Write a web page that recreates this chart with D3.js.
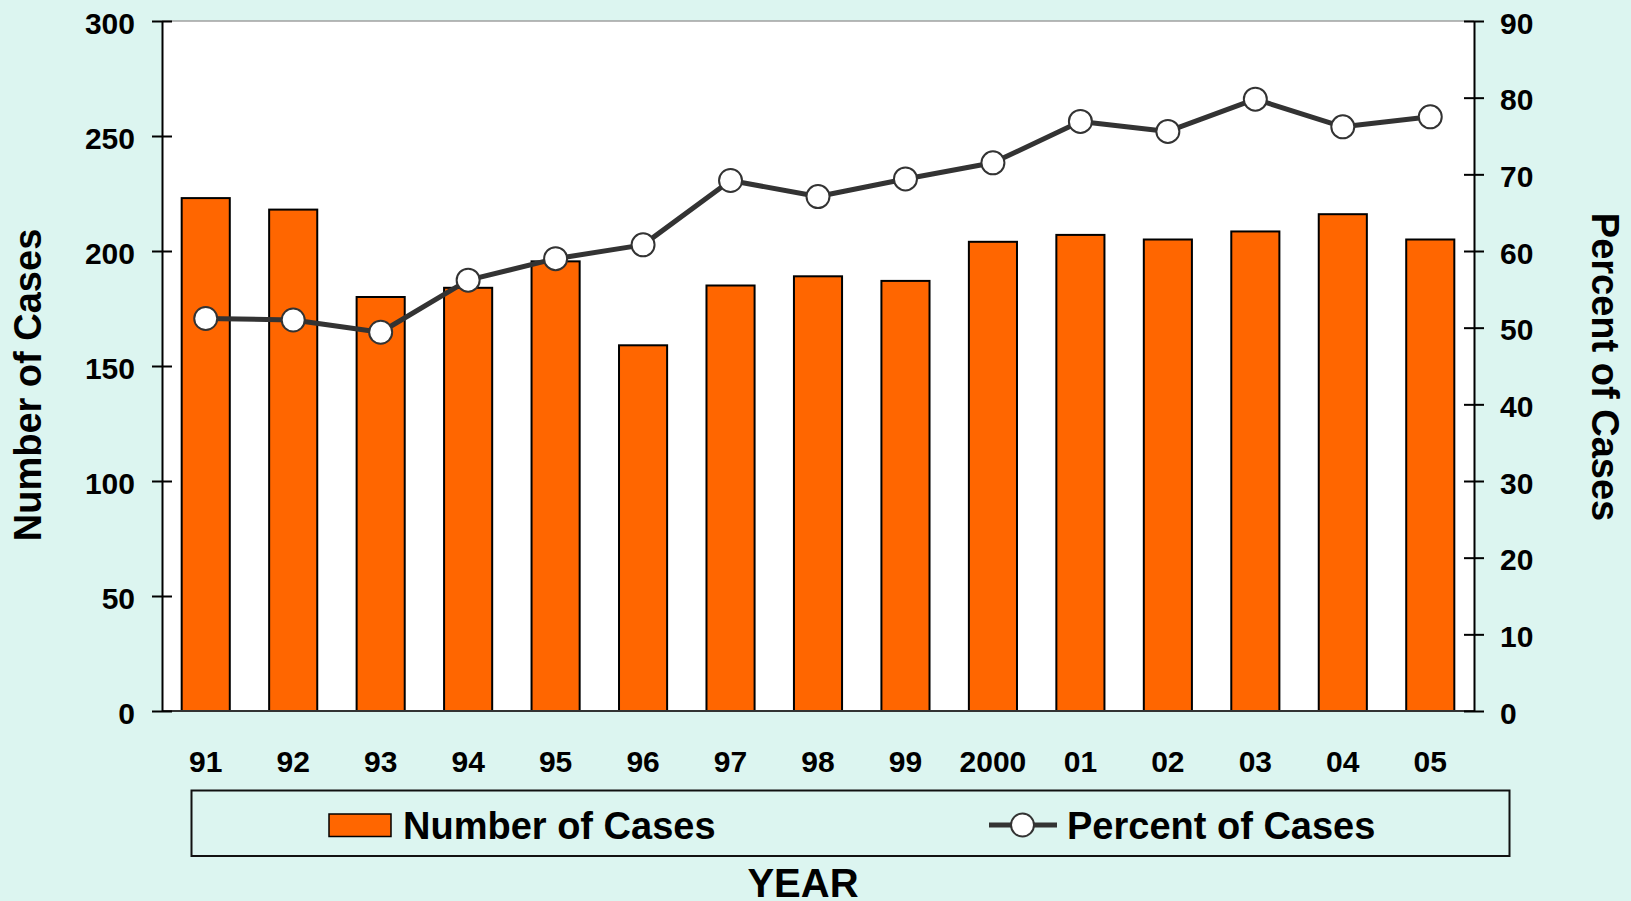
<!DOCTYPE html>
<html>
<head>
<meta charset="utf-8">
<script src="https://cdn.jsdelivr.net/npm/d3@7"></script>
<style>
  html, body { margin: 0; padding: 0; background: #dcf5f0; }
  svg { display: block; font-family: "Liberation Sans", Arial, sans-serif; font-weight: bold; }
</style>
</head>
<body>
<script>
// values
var years = ['91', '92', '93', '94', '95', '96', '97', '98', '99', '2000', '01', '02', '03', '04', '05'];
var cases = [223, 218, 180, 184, 195.5, 159, 185, 189, 187, 204, 207, 205, 208.5, 216, 205];
var percent = [51.2, 51.0, 49.4, 56.2, 59.0, 60.8, 69.2, 67.1, 69.4, 71.5, 76.9, 75.6, 79.8, 76.2, 77.5];
var casesTicks = [0, 50, 100, 150, 200, 250, 300];
var percentTicks = [0, 10, 20, 30, 40, 50, 60, 70, 80, 90];

var W = 1631, H = 901;
var plot = {left: 162, right: 1474, top: 21, bottom: 711};

var svg = d3.select('body').append('svg')
    .attr('width', W)
    .attr('height', H);

svg.append('rect')
    .attr('width', W).attr('height', H)
    .attr('fill', '#dcf5f0');

svg.append('rect')
    .attr('x', plot.left).attr('y', plot.top)
    .attr('width', plot.right - plot.left)
    .attr('height', plot.bottom - plot.top)
    .attr('fill', '#fff');

svg.append('line')
    .attr('x1', plot.left).attr('x2', plot.right)
    .attr('y1', plot.top).attr('y2', plot.top)
    .attr('stroke', '#a0a0a0').attr('stroke-width', 1.5);

var x = d3.scaleBand().domain(years)
    .range([plot.left, plot.right])
    .paddingInner(0.45).paddingOuter(0.225);
var yL = d3.scaleLinear().domain([0, 300]).range([plot.bottom, plot.top]);
var yR = d3.scaleLinear().domain([0, 90]).range([plot.bottom, plot.top]);

// bars
svg.append('g').selectAll('rect')
    .data(cases)
    .join('rect')
        .attr('x', function(d, i) { return x(years[i]); })
        .attr('y', function(d) { return yL(d); })
        .attr('width', x.bandwidth())
        .attr('height', function(d) { return yL(0) - yL(d); })
        .attr('fill', '#ff6600')
        .attr('stroke', '#000')
        .attr('stroke-width', 2);

// bottom axis line
svg.append('line')
    .attr('x1', plot.left).attr('x2', plot.right)
    .attr('y1', plot.bottom).attr('y2', plot.bottom)
    .attr('stroke', '#333').attr('stroke-width', 2);

// left axis
var axisL = d3.axisLeft(yL).tickValues(casesTicks).tickSizeInner(10).tickSizeOuter(0).tickPadding(17);
var $l = svg.append('g')
    .attr('transform', 'translate(' + plot.left + ',0)')
    .call(axisL);

// right axis
var axisR = d3.axisRight(yR).tickValues(percentTicks).tickSizeInner(10).tickSizeOuter(0).tickPadding(16);
var $r = svg.append('g')
    .attr('transform', 'translate(' + plot.right + ',0)')
    .call(axisR);

[$l, $r].forEach(function($a) {
    $a.select('.domain').attr('stroke', '#000').attr('stroke-width', 2);
    $a.selectAll('.tick line').attr('x1', -10).attr('x2', 10)
        .attr('stroke', '#000').attr('stroke-width', 2);
    $a.selectAll('.tick text')
        .attr('font-size', 30)
        .attr('font-family', '"Liberation Sans", Arial, sans-serif')
        .attr('font-weight', 'bold')
        .attr('fill', '#000')
        .attr('dy', '0.4em');
});

// x labels
var axisX = d3.axisBottom(x).tickSize(0).tickPadding(0);
var $x = svg.append('g')
    .attr('transform', 'translate(0,' + 761 + ')')
    .call(axisX);
$x.select('.domain').remove();
$x.selectAll('.tick text')
    .attr('y', 0).attr('dy', '0.36em')
    .attr('font-size', 30)
    .attr('font-family', '"Liberation Sans", Arial, sans-serif')
    .attr('font-weight', 'bold')
    .attr('fill', '#000');

// percent line
var cx = function(i) { return x(years[i]) + x.bandwidth() / 2; };
var line = d3.line()
    .x(function(d, i) { return cx(i); })
    .y(function(d) { return yR(d); });

svg.append('path')
    .datum(percent)
    .attr('d', line)
    .attr('fill', 'none')
    .attr('stroke', '#333')
    .attr('stroke-width', 5)
    .attr('stroke-linejoin', 'round');

svg.append('g').selectAll('circle')
    .data(percent)
    .join('circle')
        .attr('cx', function(d, i) { return cx(i); })
        .attr('cy', function(d) { return yR(d); })
        .attr('r', 11.5)
        .attr('fill', '#fff')
        .attr('stroke', '#333')
        .attr('stroke-width', 2);

// axis titles
svg.append('text')
    .attr('transform', 'translate(41,385) rotate(-90)')
    .attr('text-anchor', 'middle')
    .attr('font-size', 38)
    .text('Number of Cases');

svg.append('text')
    .attr('transform', 'translate(1592,367) rotate(90)')
    .attr('text-anchor', 'middle')
    .attr('font-size', 38)
    .text('Percent of Cases');

svg.append('text')
    .attr('x', 803).attr('y', 897)
    .attr('text-anchor', 'middle')
    .attr('font-size', 40)
    .text('YEAR');

// legend
var lg = svg.append('g');
lg.append('rect')
    .attr('x', 191.5).attr('y', 790.5)
    .attr('width', 1318).attr('height', 65.5)
    .attr('fill', 'none')
    .attr('stroke', '#111').attr('stroke-width', 2);

lg.append('rect')
    .attr('x', 329).attr('y', 814)
    .attr('width', 62).attr('height', 22.5)
    .attr('fill', '#ff6600')
    .attr('stroke', '#000').attr('stroke-width', 1.5);
lg.append('text')
    .attr('x', 403).attr('y', 839)
    .attr('font-size', 38)
    .text('Number of Cases');

lg.append('line')
    .attr('x1', 989).attr('x2', 1057)
    .attr('y1', 825).attr('y2', 825)
    .attr('stroke', '#333').attr('stroke-width', 5);
lg.append('circle')
    .attr('cx', 1022.5).attr('cy', 825).attr('r', 11.5)
    .attr('fill', '#fff')
    .attr('stroke', '#333').attr('stroke-width', 2);
lg.append('text')
    .attr('x', 1067).attr('y', 839)
    .attr('font-size', 38)
    .text('Percent of Cases');
</script>
</body>
</html>
